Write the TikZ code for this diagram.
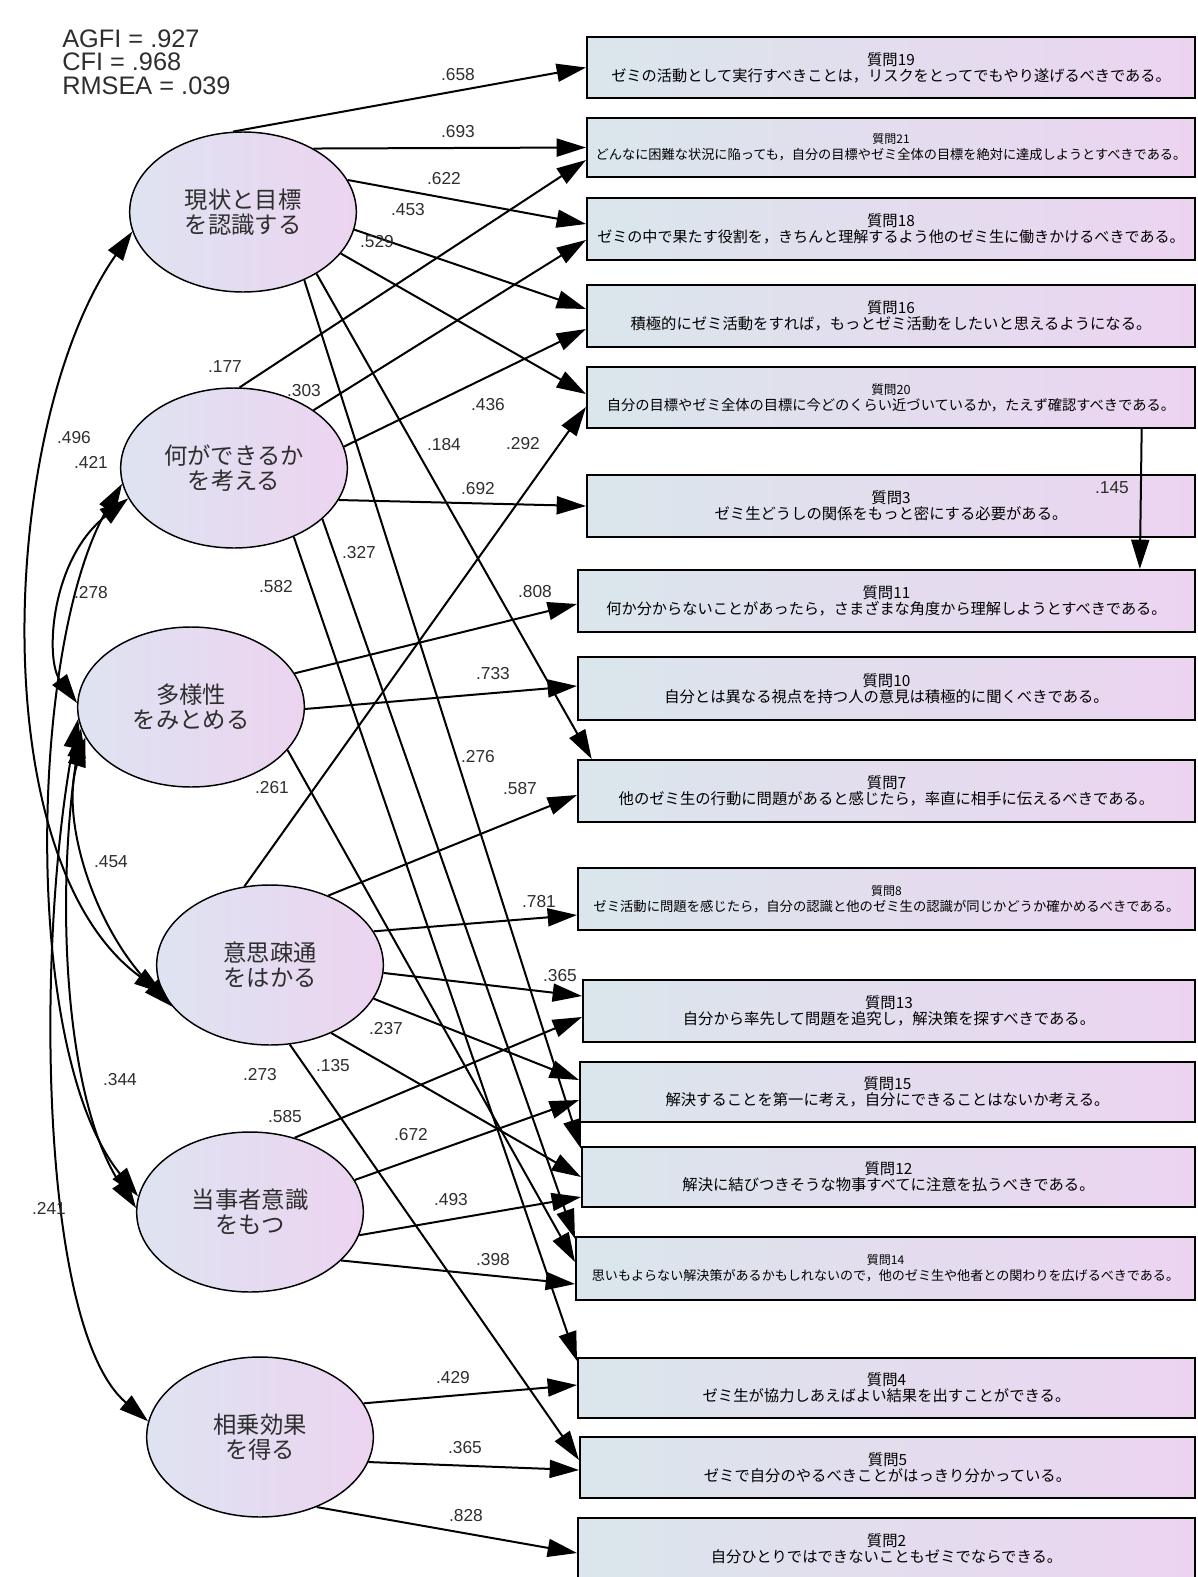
\documentclass[tikz,border=0pt]{standalone}
\usepackage{fontspec}
\setmainfont{Liberation Sans}
\newfontfamily\jp{Noto Sans CJK JP}
\usetikzlibrary{arrows.meta,shapes.geometric,calc}
\definecolor{boxL}{HTML}{DAE6EC}
\definecolor{boxR}{HTML}{ECD4F0}
\definecolor{ellL}{HTML}{DEE3F1}
\definecolor{ellR}{HTML}{ECD4F0}
\definecolor{txt}{HTML}{2E2E2E}
\newcommand\qb[8]{%
  \node[qbox, minimum width={(1195-#2)*0.75pt}, minimum height={(#4-#3)*0.75pt}]
    (#1) at ({(#2+1195)/2},{(#3+#4)/2})
    {{\fontsize{#5}{17}\selectfont 質問#6}\\{\fontsize{#7}{17}\selectfont #8}};}
\begin{document}
\begin{tikzpicture}[x=0.75pt,y=-0.75pt,
  fac/.style={ellipse, draw=black, line width=1.1pt, left color=ellL, right color=ellR,
    minimum width=170pt, minimum height=120pt, inner sep=0pt, align=center, text=txt,
    font=\jp\fontsize{17.5}{19}\selectfont},
  qbox/.style={rectangle, draw=black, line width=1.5pt, left color=boxL, right color=boxR,
    inner sep=0pt, align=center, text=black, font=\jp},
  lab/.style={font=\fontsize{13}{14}\selectfont, text=txt, inner sep=0pt},
  fit/.style={font=\fontsize{19}{20}\selectfont, text=txt, inner sep=0pt, anchor=west},
  pth/.style={line width=1.5pt, -{Triangle[length=22pt,width=13.5pt]}},
  cov/.style={line width=1.5pt, {Triangle[length=22pt,width=13.5pt]}-{Triangle[length=22pt,width=13.5pt]}},
]
\useasboundingbox (0,0) rectangle (1198,1577);

% fit indices
\node[fit] (fit1) at (62,39) {AGFI = .927};
\node[fit] (fit2) at (62,62) {CFI = .968};
\node[fit] (fit3) at (62,86) {RMSEA = .039};

% latent factors
\node[fac] (F1) at (243,212) {現状と目標\\を認識する};
\node[fac] (F2) at (234,468) {何ができるか\\を考える};
\node[fac] (F3) at (191,707) {多様性\\をみとめる};
\node[fac] (F4) at (270,965) {意思疎通\\をはかる};
\node[fac] (F5) at (250,1212) {当事者意識\\をもつ};
\node[fac] (F6) at (260,1437) {相乗効果\\を得る};

% observed items
\qb{q19}{587}{37}{98}{11.5}{19}{11.4}{ゼミの活動として実行すべきことは，リスクをとってでもやり遂げるべきである。}
\qb{q21}{587}{118}{177}{9}{21}{9.9}{どんなに困難な状況に陥っても，自分の目標やゼミ全体の目標を絶対に達成しようとすべきである。}
\qb{q18}{587}{198}{260}{11.5}{18}{11.3}{ゼミの中で果たす役割を，きちんと理解するよう他のゼミ生に働きかけるべきである。}
\qb{q16}{587}{285}{347}{11.5}{16}{11.5}{積極的にゼミ活動をすれば，もっとゼミ活動をしたいと思えるようになる。}
\qb{q20}{587}{367}{428}{9.5}{20}{10.7}{自分の目標やゼミ全体の目標に今どのくらい近づいているか，たえず確認すべきである。}
\qb{q3}{587}{475}{537}{11.5}{3}{11.5}{ゼミ生どうしの関係をもっと密にする必要がある。}
\qb{q11}{578}{570}{632}{11.5}{11}{11.4}{何か分からないことがあったら，さまざまな角度から理解しようとすべきである。}
\qb{q10}{578}{657}{720}{11.5}{10}{11.5}{自分とは異なる視点を持つ人の意見は積極的に聞くべきである。}
\qb{q7}{578}{760}{822}{11.5}{7}{11.5}{他のゼミ生の行動に問題があると感じたら，率直に相手に伝えるべきである。}
\qb{q8}{578}{868}{930}{9}{8}{10}{ゼミ活動に問題を感じたら，自分の認識と他のゼミ生の認識が同じかどうか確かめるべきである。}
\qb{q13}{583}{980}{1042}{11.5}{13}{11.5}{自分から率先して問題を追究し，解決策を探すべきである。}
\qb{q15}{580}{1062}{1122}{11.5}{15}{11.5}{解決することを第一に考え，自分にできることはないか考える。}
\qb{q12}{582}{1147}{1207}{11.5}{12}{11.5}{解決に結びつきそうな物事すべてに注意を払うべきである。}
\qb{q14}{576}{1237}{1300}{9}{14}{9.8}{思いもよらない解決策があるかもしれないので，他のゼミ生や他者との関わりを広げるべきである。}
\qb{q4}{578}{1358}{1418}{11.5}{4}{11.5}{ゼミ生が協力しあえばよい結果を出すことができる。}
\qb{q5}{580}{1437}{1498}{11.5}{5}{11.5}{ゼミで自分のやるべきことがはっきり分かっている。}
\qb{q2}{578}{1518}{1580}{11.5}{2}{11.5}{自分ひとりではできないこともゼミでならできる。}

% paths from F1
\draw[pth] (F1.97) -- (q19.west);
\draw[pth] (F1.42) -- (q21.west);
\draw[pth] (F1.17) -- ([yshift=3.75pt]q18.west);
\draw[pth] (F1.-9) -- ([yshift=5.25pt]q16.west);
\draw[pth] (F1.-23) -- ([yshift=2.6pt]q20.west);
\draw[pth] (F1.-40) -- ([xshift=11pt]q7.north west);
\draw[pth] (F1.-48) -- ([yshift=-2pt]q12.north west);
% paths from F2
\draw[pth] (F2.86) -- ([yshift=-9.4pt]q21.west);
\draw[pth] (F2.36) -- ([yshift=-8.25pt]q18.west);
\draw[pth] (F2.11) -- ([yshift=-9.75pt]q16.west);
\draw[pth] (F2.-17) -- (q3.west);
\draw[pth] (F2.-30) -- ([yshift=-2pt]q14.north west);
\draw[pth] (F2.-49) -- ([yshift=-3pt]q4.north west);
% paths from F3
\draw[pth] (F3.18) -- ([yshift=-2.25pt]q11.west);
\draw[pth] (F3.-1) -- ([yshift=1.9pt]q10.west);
\draw[pth] (F3.-24) -- ([yshift=4.9pt]q14.west);
% paths from F4
\draw[pth] (F4.108) -- ([yshift=-7.1pt]q20.west);
\draw[pth] (F4.50) -- ([yshift=-3pt]q7.west);
\draw[pth] (F4.18) -- ([yshift=-12pt]q8.west);
\draw[pth] (F4.-4) -- ([yshift=11.25pt]q13.west);
\draw[pth] (F4.-18) -- ([yshift=9pt]q15.west);
\draw[pth] (F4.-48) -- (q12.west);
\draw[pth] (F4.-76) -- ([yshift=5.6pt]q5.west);
% paths from F5
\draw[pth] (F5.59) -- ([yshift=-4.5pt]q13.west);
\draw[pth] (F5.17) -- ([yshift=-6pt]q15.west);
\draw[pth] (F5.-12) -- ([yshift=-15pt]q12.west);
\draw[pth] (F5.-28) -- ([yshift=-11.6pt]q14.west);
% paths from F6
\draw[pth] (F6.18) -- ([yshift=2.25pt]q4.west);
\draw[pth] (F6.-13) -- ([yshift=-1.9pt]q5.west);
\draw[pth] (F6.-51) -- ([yshift=-3pt]q2.west);
% item to item
\draw[pth] ([xshift=188pt]q20.south) -- ([xshift=190pt]q11.north);

% covariances
\draw[cov] (F1.190) .. controls (0,420) and (-20,860) .. (F4.195);
\draw[cov] (F2.188) .. controls (30,640) and (20,1050) .. (F5.172);
\draw[cov] (F2.196) .. controls (50,560) and (45,660) .. (F3.178);
\draw[cov] (F3.196) .. controls (60,820) and (95,930) .. (F4.203);
\draw[cov] (F3.191) .. controls (55,900) and (65,1100) .. (F5.178);
\draw[cov] (F3.186) .. controls (35,950) and (40,1330) .. (F6.172);

% labels
\node[lab] (l1) at (458,75) {.658};
\node[lab] (l2) at (458,132) {.693};
\node[lab] (l3) at (444,179) {.622};
\node[lab] (l4) at (408,210) {.453};
\node[lab] (l5) at (377,242) {.529};
\node[lab] (l6) at (225,367) {.177};
\node[lab] (l7) at (304,391) {.303};
\node[lab] (l8) at (488,405) {.436};
\node[lab] (l9) at (444,445) {.184};
\node[lab] (l10) at (523,444) {.292};
\node[lab] (l11) at (74,438) {.496};
\node[lab] (l12) at (91,462) {.421};
\node[lab] (l13) at (478,489) {.692};
\node[lab] (l14) at (359,553) {.327};
\node[lab] (l15) at (276,587) {.582};
\node[lab] (l16) at (91,593) {.278};
\node[lab] (l17) at (535,592) {.808};
\node[lab] (l18) at (493,674) {.733};
\node[lab] (l19) at (478,757) {.276};
\node[lab] (l20) at (272,788) {.261};
\node[lab] (l21) at (520,789) {.587};
\node[lab] (l22) at (111,862) {.454};
\node[lab] (l23) at (539,902) {.781};
\node[lab] (l24) at (560,976) {.365};
\node[lab] (l25) at (386,1029) {.237};
\node[lab] (l26) at (260,1075) {.273};
\node[lab] (l27) at (333,1066) {.135};
\node[lab] (l28) at (120,1080) {.344};
\node[lab] (l29) at (285,1117) {.585};
\node[lab] (l30) at (411,1135) {.672};
\node[lab] (l31) at (451,1200) {.493};
\node[lab] (l32) at (49,1208) {.241};
\node[lab] (l33) at (493,1260) {.398};
\node[lab] (l34) at (453,1378) {.429};
\node[lab] (l35) at (465,1448) {.365};
\node[lab] (l36) at (466,1516) {.828};
\node[lab] (l37) at (1112,488) {.145};
\end{tikzpicture}
\end{document}
